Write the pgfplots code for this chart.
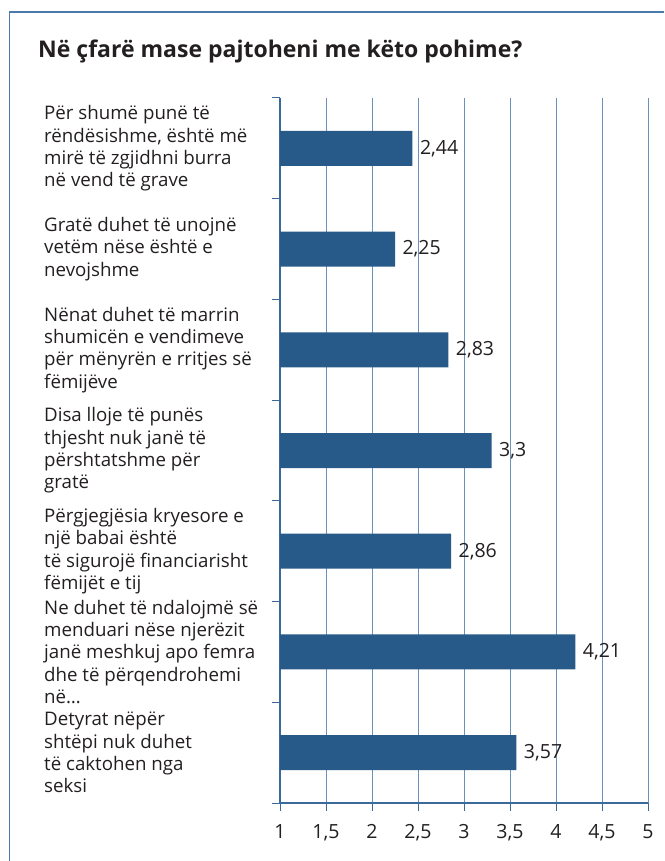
\documentclass[border=0pt]{standalone}
\usepackage{pgfplots}
\pgfplotsset{compat=1.18}
\usepackage{fontspec}
\setmainfont{Open Sans}
\definecolor{barblue}{HTML}{275A88}
\definecolor{gridblue}{HTML}{6A92BA}
\definecolor{axblue}{HTML}{3A6A99}
\definecolor{frameblue}{HTML}{4A7AAB}
\definecolor{txt}{HTML}{231F20}
\begin{document}
\begin{tikzpicture}[x=1pt,y=1pt]
\path[use as bounding box] (0,0) rectangle (664,861);
\draw[color=frameblue, line width=1.5pt] (9.5,0) -- (9.5,849) -- (664,849);
\node[anchor=base west, font=\fontsize{23}{28}\selectfont\bfseries, text=txt, inner sep=0pt] at (38,803) {Në çfarë mase pajtoheni me këto pohime?};
\begin{axis}[
  at={(280pt,58pt)}, anchor=south west,
  width=368pt, height=705pt, scale only axis,
  xmin=1, xmax=5, ymin=0.5, ymax=7.5, y dir=reverse,
  xtick={1,1.5,2,2.5,3,3.5,4,4.5,5},
  ytick={0.5,1.5,2.5,3.5,4.5,5.5,6.5,7.5}, yticklabels={},
  axis x line*=bottom, axis y line*=left,
  xmajorgrids=true,
  grid style={gridblue, line width=0.7pt},
  axis line style={axblue, line width=1.2pt, -},
  tick style={axblue, line width=1pt},
  tick align=outside, major tick length=8pt,
  xticklabel style={font=\fontsize{19.5}{23}\selectfont, text=txt, yshift=-10pt,
    /pgf/number format/use comma, /pgf/number format/assume math mode=true},
  clip mode=individual,
]
\addplot[xbar, bar width=35pt, fill=barblue, draw=none,
  nodes near coords={\pgfmathprintnumber[use comma, assume math mode=true]{\pgfplotspointmeta}},
  nodes near coords style={anchor=west, xshift=4pt, font=\fontsize{19.5}{23}\selectfont, text=txt}]
  coordinates {(2.44,1) (2.25,2) (2.83,3) (3.3,4) (2.86,5) (4.21,6) (3.57,7)};
\begin{scope}[every node/.style={anchor=west, align=left, xshift=-236pt, inner sep=0pt, font=\fontsize{18.7}{22.3}\selectfont, text=txt}]
\node at (axis cs:1,1) {Për shumë punë të\\rëndësishme, është më\\mirë të zgjidhni burra\\në vend të grave};
\node at (axis cs:1,2) {Gratë duhet të unojnë\\vetëm nëse është e\\nevojshme};
\node at (axis cs:1,3) {Nënat duhet të marrin\\shumicën e vendimeve\\për mënyrën e rritjes së\\fëmijëve};
\node at (axis cs:1,4) {Disa lloje të punës\\thjesht nuk janë të\\përshtatshme për\\gratë};
\node at (axis cs:1,5) {Përgjegjësia kryesore e\\një babai është\\të sigurojë financiarisht\\fëmijët e tij};
\node at (axis cs:1,6) {Ne duhet të ndalojmë së\\menduari nëse njerëzit\\janë meshkuj apo femra\\dhe të përqendrohemi\\në…};
\node at (axis cs:1,7) {Detyrat nëpër\\shtëpi nuk duhet\\të caktohen nga\\seksi};
\end{scope}
\end{axis}
\end{tikzpicture}
\end{document}
